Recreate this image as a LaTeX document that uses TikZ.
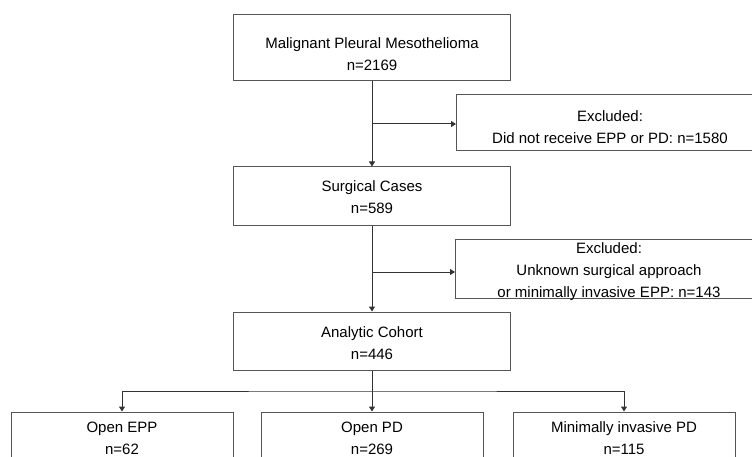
\documentclass[tikz,border=0pt]{standalone}
\usepackage{fontspec}
\setmainfont{Liberation Sans}
\usetikzlibrary{arrows.meta, positioning}
\definecolor{boxgray}{HTML}{555555}
\definecolor{linegray}{HTML}{333333}
\tikzstyle{block} = [rectangle, minimum width=277pt, minimum height=58pt, align=center, inner sep=2pt, draw=boxgray, line width=1pt, font=\fontsize{15}{22}\selectfont]
\tikzstyle{exclude} = [block, minimum width=307pt]
\tikzstyle{arm} = [block, minimum width=222pt]
\tikzstyle{arrow} = [line width=1pt, draw=linegray, -{Triangle[length=5pt, width=6pt]}]

\begin{document}
\begin{tikzpicture}[x=1pt, y=1pt]
  \useasboundingbox (0,0) rectangle (752,-457);
  \clip (0,0) rectangle (752,-457);
  % main column
  \node[block, minimum height=66pt] (mpm) at (372,-48) {\rule{0pt}{23pt}Malignant Pleural Mesothelioma\\n=2169};
  \node[block, below=85pt of mpm] (surg) {\rule{0pt}{13pt}Surgical Cases\\n=589};
  \node[block, below=86pt of surg] (cohort) {\rule{0pt}{15pt}Analytic Cohort\\n=446};
  % exclusions
  \node[exclude, minimum height=56pt] (ex1) at (610,-123) {\rule{0pt}{19pt}Excluded:\\Did not receive EPP or PD: n=1580};
  \node[exclude, inner ysep=-3pt] (ex2) at (609,-269) {\rule{0pt}{17pt}Excluded:\\Unknown surgical approach\\or minimally invasive EPP: n=143};
  % groups
  \node[arm, below=41pt of cohort] (opd) {Open PD\\n=269\rule[-6pt]{0pt}{6pt}};
  \node[arm, left=27pt of opd] (epp) {Open EPP\\n=62\rule[-6pt]{0pt}{6pt}};
  \node[arm, right=29pt of opd] (mipd) {Minimally invasive PD\\n=115\rule[-6pt]{0pt}{6pt}};

  \coordinate (j1) at (372,-124);
  \coordinate (j2) at (372,-272);
  \coordinate (fork) at (372,-391);

  \draw[arrow] (mpm) -- (surg);
  \draw[arrow] (j1) -- (ex1.west |- j1);
  \draw[arrow] (surg) -- (cohort);
  \draw[arrow] (j2) -- (ex2.west |- j2);
  \draw[arrow] (cohort) -- (opd);
  \draw[arrow, {Triangle[length=5pt, width=6pt]}-{Triangle[length=5pt, width=6pt]}] (epp) |- (fork) -| (mipd);
\end{tikzpicture}
\end{document}
